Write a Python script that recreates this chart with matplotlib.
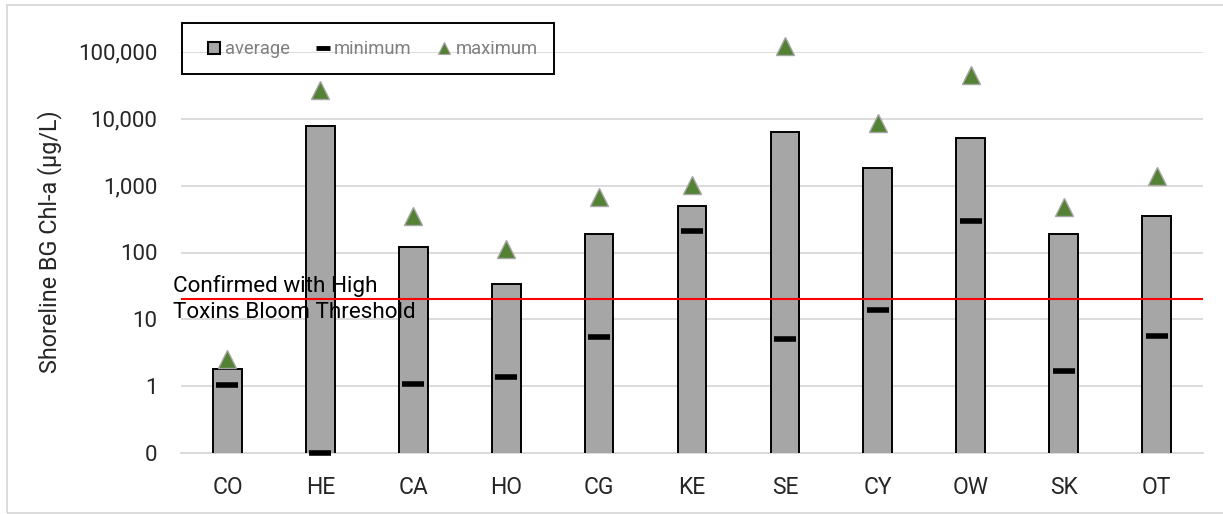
import matplotlib
matplotlib.use("Agg")
import matplotlib.pyplot as plt
import matplotlib.transforms as mtransforms
from matplotlib.lines import Line2D
from matplotlib.patches import Rectangle
from matplotlib.ticker import FixedLocator, FuncFormatter, NullLocator

# Shoreline blue-green chlorophyll-a by site (µg/L)
sites = ["CO", "HE", "CA", "HO", "CG", "KE", "SE", "CY", "OW", "SK", "OT"]
average = [1.84, 7850, 121, 34, 189, 495, 6300, 1850, 5100, 189, 355]
minimum = [1.04, 0.1, 1.07, 1.39, 5.4, 212, 5.15, 13.7, 296, 1.68, 5.6]
maximum = [2.6, 26500, 352, 114, 680, 1020, 122000, 8700, 45400, 480, 1400]
threshold = 20
threshold_label = "Confirmed with High\nToxins Bloom Threshold"
y_ticks = [0.1, 1, 10, 100, 1000, 10000, 100000]

plt.rcParams["font.family"] = ["Roboto", "DejaVu Sans"]

W, H = 1223, 514
fig = plt.figure(figsize=(W / 100, H / 100), dpi=100)
ax = fig.add_axes([181 / W, 1 - 453.3 / H, (1203 - 181) / W, (453.3 - 51.7) / H])

x = list(range(len(sites)))
ax.set_yscale("log")
ax.set_ylim(0.1, 100000)
ax.set_xlim(-0.5, len(sites) - 0.5)

bar_grey = "#a6a6a6"
ax.bar(x, average, width=0.31, color=bar_grey, edgecolor="black",
       linewidth=1.4, zorder=3)
ax.plot(x, minimum, linestyle="none", marker="_", markersize=16,
        markeredgewidth=4, color="black", zorder=4, clip_on=False)
ax.plot(x, maximum, linestyle="none", marker="^", markersize=13,
        markerfacecolor="#548235", markeredgecolor="#a5a5a5",
        markeredgewidth=1, zorder=5, clip_on=False)

ax.axhline(threshold, color="#ff0000", linewidth=1.5, zorder=4)
trans = mtransforms.blended_transform_factory(ax.transAxes, ax.transData)
ax.text(-0.008, threshold, threshold_label, transform=trans, ha="left",
        va="center", fontsize=16.2, linespacing=1.32, color="black", zorder=6)

ax.yaxis.set_major_locator(FixedLocator(y_ticks))
ax.yaxis.set_minor_locator(NullLocator())
ax.yaxis.set_major_formatter(
    FuncFormatter(lambda v, p: "0" if v < 1 else f"{v:,.0f}"))
ax.set_xticks(x)
ax.set_xticklabels(sites)
ax.tick_params(axis="y", length=0, pad=17, labelsize=16, labelcolor="#262626")
ax.tick_params(axis="x", length=0, pad=16, labelsize=16.5, labelcolor="#262626")

ax.grid(axis="y", color="#d9d9d9", linewidth=1.3, zorder=0)
ax.set_axisbelow(True)
for side in ["top", "left", "right"]:
    ax.spines[side].set_visible(False)
ax.spines["bottom"].set_color("#d9d9d9")
ax.spines["bottom"].set_linewidth(1.3)

fig.text(50 / W, 1 - 242 / H, "Shoreline BG Chl-a (µg/L)", rotation=90,
         ha="center", va="center", fontsize=16.8, color="#262626")

# legend entries, with a separate outlined box drawn around them
handles = [
    Line2D([], [], linestyle="none", marker="s", markersize=8,
           markerfacecolor=bar_grey, markeredgecolor="black",
           markeredgewidth=1.5),
    Line2D([], [], linestyle="none", marker="_", markersize=9.5,
           markeredgewidth=3.5, color="black"),
    Line2D([], [], linestyle="none", marker="^", markersize=9,
           markerfacecolor="#548235", markeredgecolor="#a5a5a5",
           markeredgewidth=0.8),
]
leg = fig.legend(handles, ["average", "minimum", "maximum"], ncol=3,
                 loc="center left", bbox_to_anchor=(207 / W, 1 - 49.5 / H),
                 frameon=False, fontsize=13.2, borderpad=0, borderaxespad=0,
                 handlelength=0.75, handletextpad=0.25, columnspacing=1.4,
                 labelcolor="#7f7f7f")
fig.patches.append(Rectangle((181.7 / W, 1 - 74 / H), (554 - 181.7) / W,
                             (74 - 23) / H, transform=fig.transFigure,
                             fill=False, edgecolor="black", linewidth=1.4))

fig.patches.append(Rectangle((7 / W, 1 - 513 / H), 1.0, (513 - 5) / H,
                             transform=fig.transFigure, fill=False,
                             edgecolor="#d9d9d9", linewidth=1.3))

fig.savefig("out.png", dpi=100)
